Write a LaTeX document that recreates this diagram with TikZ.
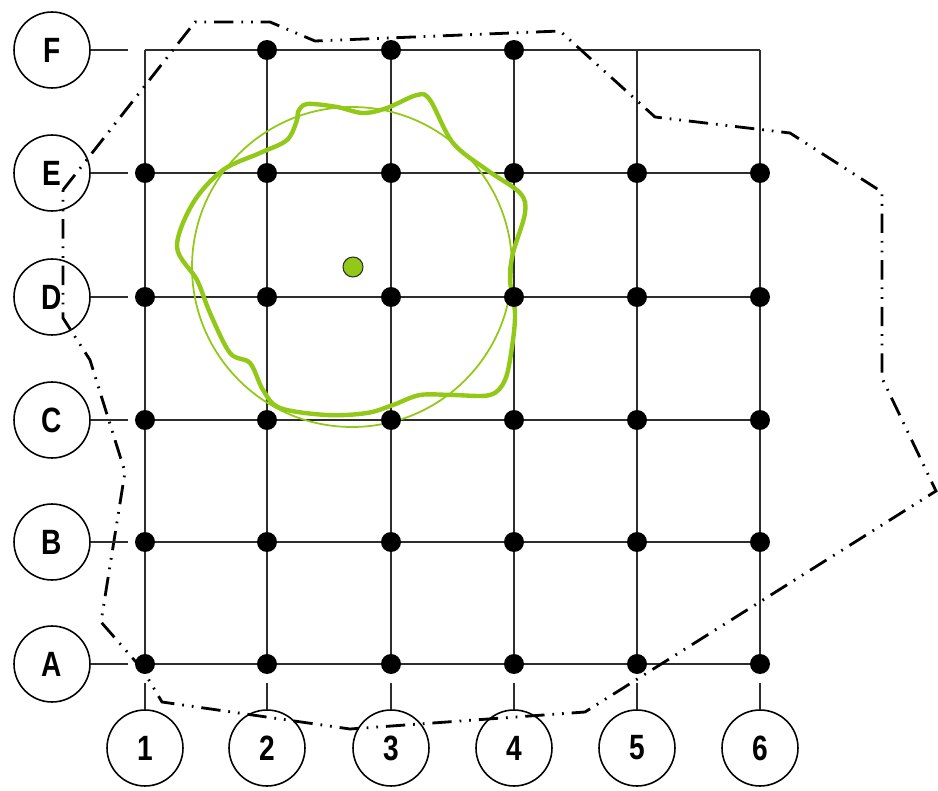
\documentclass[tikz,border=0pt]{standalone}
\usepackage{fontspec}
\newfontfamily\tagfont[FakeStretch=0.8]{Liberation Sans}
\definecolor{leafgreen}{RGB}{146,200,24}
\definecolor{gridgray}{RGB}{45,45,45}

\begin{document}
\begin{tikzpicture}[
    x=0.02cm, y=-0.02cm,
    tag/.style={circle, draw, line width=0.9pt, minimum size=1.52cm, inner sep=0pt, font=\tagfont\bfseries\fontsize{20}{20}\selectfont},
    gridline/.style={line width=1pt, draw=gridgray},
    pin/.style={circle, fill=black, minimum size=0.4cm, inner sep=0pt},
    boundary/.style={line width=1.6pt, dash pattern=on 11pt off 4.5pt on 1pt off 4.5pt on 1pt off 4.5pt},
    zone/.style={draw=leafgreen, line width=2.5pt},
    ring/.style={draw=leafgreen, line width=1pt}
]
\useasboundingbox (0,0) rectangle (938,791);

% Grid points
\foreach \r/\y in {A/664,B/542,C/420,D/297,E/173,F/50}
  \foreach \c/\x in {1/145,2/267,3/391,4/514,5/637,6/760}
    \coordinate (\r\c) at (\x,\y);

% Grid lines
\foreach \r in {A,B,C,D,E,F}
  \draw[gridline] (\r1) -- (\r6);
\foreach \c in {1,2,3,4,5,6}
  \draw[gridline] (F\c) -- (A\c);

% Site boundary
\draw[boundary] (63,190) -- (195,22) -- (270,22) -- (315,41) -- (560,31) -- (655,117) -- (790,133)
  -- (882,192) -- (882,378) -- (936,491) -- (585,712) -- (350,729) -- (162,702) -- (143,670)
  -- (101,622) -- (125,472) -- (90,360) -- (63,318) -- cycle;

% Influence zone
\draw[ring] (352,267) circle[radius=160];
\draw[zone] plot[smooth cycle, tension=0.55] coordinates {
  (298,112) (307,104) (337,107) (363,113) (387,108) (417,95) (430,100) (453,143)
  (487,170) (520,193) (525,213) (513,253) (510,280) (515,313) (512,347) (505,380)
  (490,395) (453,395) (420,395) (393,405) (367,413) (327,415) (280,408) (263,390)
  (250,363) (230,353) (210,313) (197,280) (177,247) (193,203) (223,170) (260,153)
  (287,140) (297,120)};
\node[circle, fill=leafgreen, draw=gridgray, line width=0.6pt, minimum size=0.4cm, inner sep=0pt] (src) at (353,267) {};

% Columns
\foreach \r in {A,B,C,D,E}
  \foreach \c in {1,2,3,4,5,6}
    \node[pin] (p\r\c) at (\r\c) {};
\foreach \c in {2,3,4}
  \node[pin] (pF\c) at (F\c) {};

% Row axis labels
\node[tag] (lF) at (52,50) {F};
\node[tag] (lE) at (52,173) {E};
\node[tag] (lD) at (52,297) {D};
\node[tag] (lC) at (52,420) {C};
\node[tag] (lB) at (52,542) {B};
\node[tag] (lA) at (52,664) {A};
\foreach \r in {A,B,C,D,E,F}
  \draw[gridline] (l\r) -- ([xshift=-0.34cm]\r1);

% Column axis labels
\node[tag] (t1) at (145,748) {1};
\node[tag] (t2) at (267,748) {2};
\node[tag] (t3) at (391,748) {3};
\node[tag] (t4) at (514,748) {4};
\node[tag] (t5) at (637,748) {5};
\node[tag] (t6) at (760,748) {6};
\foreach \c in {1,2,3,4,5,6}
  \draw[gridline] (t\c) -- ([yshift=-0.38cm]A\c);

\end{tikzpicture}
\end{document}
